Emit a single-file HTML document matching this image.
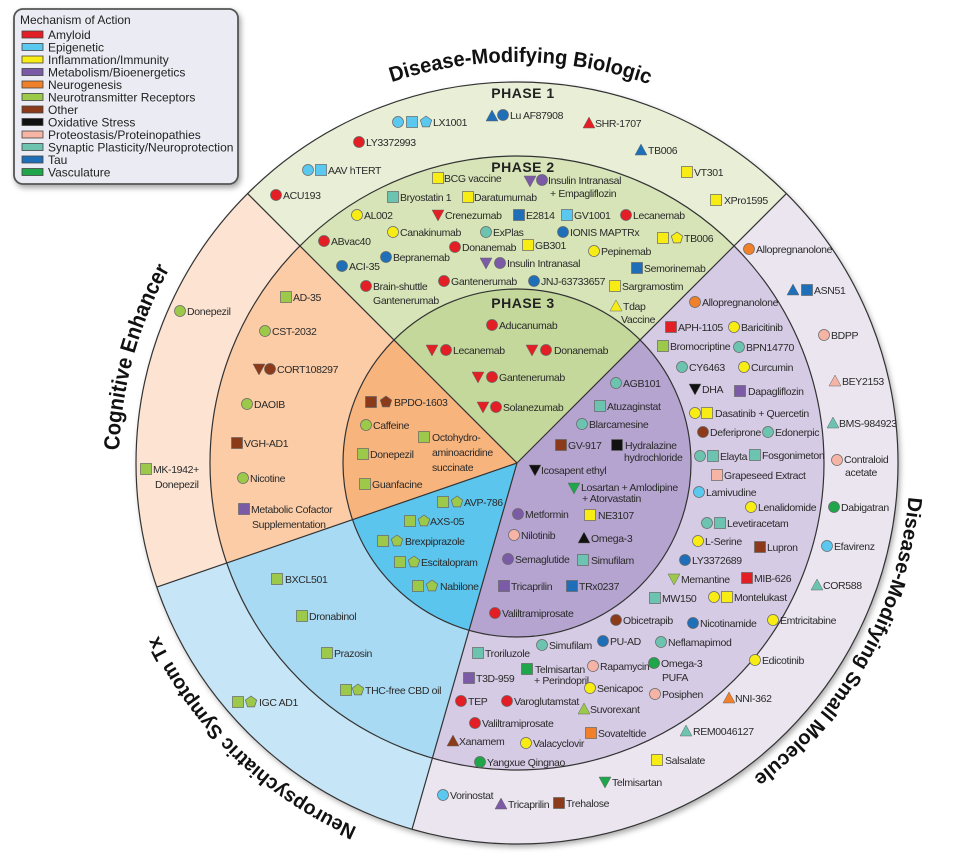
<!DOCTYPE html>
<html><head><meta charset="utf-8">
<style>
html,body{margin:0;padding:0;background:#fff;}
svg{display:block;}
.l{font-family:"Liberation Sans",Arial,sans-serif;font-size:10.5px;fill:#2a2a2a;letter-spacing:-0.35px;}
.ph{font-family:"Liberation Sans",Arial,sans-serif;font-size:14px;font-weight:bold;fill:#222;letter-spacing:0.5px;}
.big{font-family:"Liberation Sans",Arial,sans-serif;font-weight:bold;fill:#111;}
.lg{font-family:"Liberation Sans",Arial,sans-serif;font-size:12px;fill:#222;}
</style></head>
<body>
<svg width="975" height="859" viewBox="0 0 975 859" xmlns="http://www.w3.org/2000/svg">
<defs>
<filter id="sh" x="-10%" y="-10%" width="120%" height="120%"><feDropShadow dx="2" dy="3" stdDeviation="3" flood-color="#000" flood-opacity="0.35"/></filter>
<circle id="c" r="5.5" stroke="#666" stroke-width="0.7"/>
<rect id="s" x="-5.5" y="-5.5" width="11" height="11" stroke="#666" stroke-width="0.7"/>
<polygon id="t" points="0,-6 6,5 -6,5" stroke="#666" stroke-width="0.5"/>
<polygon id="v" points="-6,-5 6,-5 0,6" stroke="#666" stroke-width="0.5"/>
<polygon id="p" points="0,-6 5.7,-1.9 3.5,4.9 -3.5,4.9 -5.7,-1.9" stroke="#666" stroke-width="0.7"/>
<path id="arcB" d="M322.6,112.3 A401,401 0 0 1 717.5,115.7"/>
<path id="arcC" d="M125.1,532.1 A398,398 0 0 1 216.6,201.9"/>
<path id="arcN" d="M414.0,847.4 A398,398 0 0 1 136.4,579.4"/>
<path id="arcS" d="M910,463 A393,393 0 0 1 725.3,796.3"/>
</defs>

<!-- outer disk with shadow -->
<circle cx="517" cy="463" r="381" fill="#fff" filter="url(#sh)"/>

<!-- outer ring sectors (R=381) -->
<path d="M517,463 L247.6,193.6 A381,381 0 0 1 786.4,193.6 Z" fill="#e8efd6"/>
<path d="M517,463 L786.4,193.6 A381,381 0 0 1 412.0,829.3 Z" fill="#ebe5f0"/>
<path d="M517,463 L412.0,829.3 A381,381 0 0 1 156.8,587.1 Z" fill="#c6e5f6"/>
<path d="M517,463 L156.8,587.1 A381,381 0 0 1 247.6,193.6 Z" fill="#fde3d1"/>
<!-- middle (R=307) -->
<path d="M517,463 L299.9,245.9 A307,307 0 0 1 734.1,245.9 Z" fill="#d6e4b8"/>
<path d="M517,463 L734.1,245.9 A307,307 0 0 1 432.4,758.1 Z" fill="#d6cbe4"/>
<path d="M517,463 L432.4,758.1 A307,307 0 0 1 226.7,563.0 Z" fill="#a9daf3"/>
<path d="M517,463 L226.7,563.0 A307,307 0 0 1 299.9,245.9 Z" fill="#fbcca6"/>
<!-- inner (R=174) -->
<path d="M517,463 L394.0,340.0 A174,174 0 0 1 640.0,340.0 Z" fill="#c4d89b"/>
<path d="M517,463 L640.0,340.0 A174,174 0 0 1 469.0,630.3 Z" fill="#b5a4cf"/>
<path d="M517,463 L469.0,630.3 A174,174 0 0 1 352.5,519.7 Z" fill="#5bc5ee"/>
<path d="M517,463 L352.5,519.7 A174,174 0 0 1 394.0,340.0 Z" fill="#f8b47d"/>

<!-- outlines -->
<g fill="none" stroke="#333" stroke-width="1.2">
<circle cx="517" cy="463" r="381"/>
<circle cx="517" cy="463" r="307"/>
<circle cx="517" cy="463" r="174"/>
<line x1="517" y1="463" x2="247.6" y2="193.6"/>
<line x1="517" y1="463" x2="786.4" y2="193.6"/>
<line x1="517" y1="463" x2="412.0" y2="829.3"/>
<line x1="517" y1="463" x2="156.8" y2="587.1"/>
</g>

<!-- curved titles -->
<text class="big" font-size="21"><textPath href="#arcB" startOffset="50%" text-anchor="middle" textLength="262" lengthAdjust="spacingAndGlyphs">Disease-Modifying Biologic</textPath></text>
<text class="big" font-size="22"><textPath href="#arcC" startOffset="50%" text-anchor="middle" textLength="190" lengthAdjust="spacingAndGlyphs">Cognitive Enhancer</textPath></text>
<text class="big" font-size="20"><textPath href="#arcN" startOffset="50%" text-anchor="middle" textLength="282" lengthAdjust="spacingAndGlyphs">Neuropsychiatric Symptom Tx</textPath></text>
<text class="big" font-size="20"><textPath href="#arcS" startOffset="50%" text-anchor="middle" textLength="330" lengthAdjust="spacingAndGlyphs">Disease-Modifying Small Molecule</textPath></text>

<text class="ph" x="523" y="98" text-anchor="middle">PHASE 1</text>
<text class="ph" x="523" y="172" text-anchor="middle">PHASE 2</text>
<text class="ph" x="523" y="308" text-anchor="middle">PHASE 3</text>

<!-- PHASE 1 -->
<use href="#c" x="398" y="122" fill="#5bc8f0"/><use href="#s" x="412" y="122" fill="#5bc8f0"/><use href="#p" x="426" y="122" fill="#5bc8f0"/><text class="l" x="433" y="126">LX1001</text>
<use href="#c" x="359" y="142" fill="#e31e24"/><text class="l" x="366" y="146">LY3372993</text>
<use href="#c" x="308" y="170" fill="#5bc8f0"/><use href="#s" x="321" y="170" fill="#5bc8f0"/><text class="l" x="328" y="174">AAV hTERT</text>
<use href="#c" x="276" y="195" fill="#e31e24"/><text class="l" x="283" y="199">ACU193</text>
<use href="#t" x="492" y="116" fill="#1f6fb8"/><use href="#c" x="503" y="115" fill="#1f6fb8"/><text class="l" x="510" y="119">Lu AF87908</text>
<use href="#t" x="589" y="123" fill="#e31e24"/><text class="l" x="595" y="127">SHR-1707</text>
<use href="#t" x="641" y="150" fill="#1f6fb8"/><text class="l" x="648" y="154">TB006</text>
<use href="#s" x="687" y="172" fill="#f7ec13"/><text class="l" x="694" y="176">VT301</text>
<use href="#s" x="716" y="200" fill="#f7ec13"/><text class="l" x="724" y="204">XPro1595</text>

<!-- PHASE 2 -->
<use href="#s" x="438" y="178" fill="#f7ec13"/><text class="l" x="444" y="182">BCG vaccine</text>
<use href="#s" x="393" y="197" fill="#6cc4b0"/><text class="l" x="400" y="201">Bryostatin 1</text>
<use href="#s" x="468" y="197" fill="#f7ec13"/><text class="l" x="474" y="201">Daratumumab</text>
<use href="#v" x="530" y="181" fill="#7b5aa6"/><use href="#c" x="542" y="180" fill="#7b5aa6"/><text class="l" x="548" y="184">Insulin Intranasal</text><text class="l" x="550" y="197">+ Empagliflozin</text>
<use href="#c" x="357" y="215" fill="#f7ec13"/><text class="l" x="364" y="219">AL002</text>
<use href="#v" x="438" y="215" fill="#e31e24"/><text class="l" x="445" y="219">Crenezumab</text>
<use href="#s" x="519" y="215" fill="#1f6fb8"/><text class="l" x="526" y="219">E2814</text>
<use href="#s" x="567" y="215" fill="#5bc8f0"/><text class="l" x="574" y="219">GV1001</text>
<use href="#c" x="626" y="215" fill="#e31e24"/><text class="l" x="633" y="219">Lecanemab</text>
<use href="#c" x="393" y="232" fill="#f7ec13"/><text class="l" x="400" y="236">Canakinumab</text>
<use href="#c" x="486" y="232" fill="#6cc4b0"/><text class="l" x="493" y="236">ExPlas</text>
<use href="#c" x="563" y="232" fill="#1f6fb8"/><text class="l" x="570" y="236">IONIS MAPTRx</text>
<use href="#s" x="663" y="238" fill="#f7ec13"/><use href="#p" x="677" y="238" fill="#f7ec13"/><text class="l" x="684" y="242">TB006</text>
<use href="#c" x="324" y="241" fill="#e31e24"/><text class="l" x="331" y="245">ABvac40</text>
<use href="#c" x="455" y="247" fill="#e31e24"/><text class="l" x="462" y="251">Donanemab</text>
<use href="#s" x="528" y="245" fill="#f7ec13"/><text class="l" x="535" y="249">GB301</text>
<use href="#c" x="594" y="251" fill="#f7ec13"/><text class="l" x="601" y="255">Pepinemab</text>
<use href="#c" x="386" y="257" fill="#1f6fb8"/><text class="l" x="393" y="261">Bepranemab</text>
<use href="#c" x="342" y="266" fill="#1f6fb8"/><text class="l" x="349" y="270">ACI-35</text>
<use href="#v" x="486" y="263" fill="#7b5aa6"/><use href="#c" x="500" y="263" fill="#7b5aa6"/><text class="l" x="507" y="267">Insulin Intranasal</text>
<use href="#s" x="637" y="268" fill="#1f6fb8"/><text class="l" x="644" y="272">Semorinemab</text>
<use href="#c" x="366" y="286" fill="#e31e24"/><text class="l" x="373" y="290">Brain-shuttle</text><text class="l" x="373" y="304">Gantenerumab</text>
<use href="#c" x="444" y="281" fill="#e31e24"/><text class="l" x="451" y="285">Gantenerumab</text>
<use href="#c" x="534" y="281" fill="#1f6fb8"/><text class="l" x="541" y="285">JNJ-63733657</text>
<use href="#s" x="615" y="286" fill="#f7ec13"/><text class="l" x="622" y="290">Sargramostim</text>
<use href="#t" x="616" y="306" fill="#f7ec13"/><text class="l" x="623" y="310">Tdap</text><text class="l" x="621" y="323">Vaccine</text>

<!-- PHASE 3 green -->
<use href="#c" x="492" y="325" fill="#e31e24"/><text class="l" x="499" y="329">Aducanumab</text>
<use href="#v" x="432" y="350" fill="#e31e24"/><use href="#c" x="446" y="350" fill="#e31e24"/><text class="l" x="453" y="354">Lecanemab</text>
<use href="#v" x="532" y="350" fill="#e31e24"/><use href="#c" x="546" y="350" fill="#e31e24"/><text class="l" x="554" y="354">Donanemab</text>
<use href="#v" x="478" y="377" fill="#e31e24"/><use href="#c" x="492" y="377" fill="#e31e24"/><text class="l" x="499" y="381">Gantenerumab</text>
<use href="#v" x="483" y="407" fill="#e31e24"/><use href="#c" x="496" y="407" fill="#e31e24"/><text class="l" x="503" y="411">Solanezumab</text>

<!-- Orange -->
<use href="#s" x="371" y="402" fill="#8b3a1a"/><use href="#p" x="386" y="402" fill="#8b3a1a"/><text class="l" x="394" y="406">BPDO-1603</text>
<use href="#c" x="366" y="425" fill="#9cc94a"/><text class="l" x="373" y="429">Caffeine</text>
<use href="#s" x="424" y="437" fill="#9cc94a"/><text class="l" x="432" y="441">Octohydro-</text><text class="l" x="432" y="456">aminoacridine</text><text class="l" x="432" y="471">succinate</text>
<use href="#s" x="363" y="454" fill="#9cc94a"/><text class="l" x="370" y="458">Donepezil</text>
<use href="#s" x="365" y="484" fill="#9cc94a"/><text class="l" x="372" y="488">Guanfacine</text>
<use href="#s" x="286" y="297" fill="#9cc94a"/><text class="l" x="293" y="301">AD-35</text>
<use href="#c" x="265" y="331" fill="#9cc94a"/><text class="l" x="272" y="335">CST-2032</text>
<use href="#v" x="259" y="369" fill="#8b3a1a"/><use href="#c" x="270" y="369" fill="#8b3a1a"/><text class="l" x="277" y="373">CORT108297</text>
<use href="#c" x="247" y="404" fill="#9cc94a"/><text class="l" x="254" y="408">DAOIB</text>
<use href="#s" x="237" y="443" fill="#8b3a1a"/><text class="l" x="244" y="447">VGH-AD1</text>
<use href="#c" x="243" y="478" fill="#9cc94a"/><text class="l" x="250" y="482">Nicotine</text>
<use href="#s" x="244" y="509" fill="#7b5aa6"/><text class="l" x="251" y="513">Metabolic Cofactor</text><text class="l" x="252" y="528">Supplementation</text>
<use href="#c" x="180" y="311" fill="#9cc94a"/><text class="l" x="187" y="315">Donepezil</text>
<use href="#s" x="146" y="469" fill="#9cc94a"/><text class="l" x="153" y="473">MK-1942+</text><text class="l" x="155" y="488">Donepezil</text>

<!-- Blue -->
<use href="#s" x="443" y="502" fill="#9cc94a"/><use href="#p" x="457" y="502" fill="#9cc94a"/><text class="l" x="464" y="506">AVP-786</text>
<use href="#s" x="410" y="521" fill="#9cc94a"/><use href="#p" x="424" y="521" fill="#9cc94a"/><text class="l" x="430" y="525">AXS-05</text>
<use href="#s" x="383" y="541" fill="#9cc94a"/><use href="#p" x="397" y="541" fill="#9cc94a"/><text class="l" x="405" y="545">Brexpiprazole</text>
<use href="#s" x="400" y="562" fill="#9cc94a"/><use href="#p" x="414" y="562" fill="#9cc94a"/><text class="l" x="421" y="566">Escitalopram</text>
<use href="#s" x="418" y="586" fill="#9cc94a"/><use href="#p" x="432" y="586" fill="#9cc94a"/><text class="l" x="440" y="590">Nabilone</text>
<use href="#s" x="277" y="579" fill="#9cc94a"/><text class="l" x="285" y="583">BXCL501</text>
<use href="#s" x="302" y="616" fill="#9cc94a"/><text class="l" x="309" y="620">Dronabinol</text>
<use href="#s" x="327" y="653" fill="#9cc94a"/><text class="l" x="334" y="657">Prazosin</text>
<use href="#s" x="346" y="690" fill="#9cc94a"/><use href="#p" x="358" y="690" fill="#9cc94a"/><text class="l" x="365" y="694">THC-free CBD oil</text>
<use href="#s" x="238" y="702" fill="#9cc94a"/><use href="#p" x="251" y="702" fill="#9cc94a"/><text class="l" x="259" y="706">IGC AD1</text>

<!-- Purple inner -->
<use href="#c" x="616" y="383" fill="#6cc4b0"/><text class="l" x="623" y="387">AGB101</text>
<use href="#s" x="600" y="406" fill="#6cc4b0"/><text class="l" x="607" y="410">Atuzaginstat</text>
<use href="#c" x="582" y="424" fill="#6cc4b0"/><text class="l" x="589" y="428">Blarcamesine</text>
<use href="#s" x="561" y="445" fill="#8b3a1a"/><text class="l" x="568" y="449">GV-917</text>
<use href="#s" x="617" y="445" fill="#111"/><text class="l" x="625" y="449">Hydralazine</text><text class="l" x="624" y="461">hydrochloride</text>
<use href="#v" x="535" y="470" fill="#111"/><text class="l" x="541" y="474">Icosapent ethyl</text>
<use href="#v" x="574" y="488" fill="#1fa54a"/><text class="l" x="581" y="491">Losartan + Amlodipine</text><text class="l" x="582" y="502">+ Atorvastatin</text>
<use href="#c" x="518" y="514" fill="#7b5aa6"/><text class="l" x="525" y="518">Metformin</text>
<use href="#s" x="590" y="515" fill="#f7ec13"/><text class="l" x="598" y="519">NE3107</text>
<use href="#c" x="514" y="535" fill="#f6b4a5"/><text class="l" x="521" y="539">Nilotinib</text>
<use href="#t" x="584" y="538" fill="#111"/><text class="l" x="591" y="542">Omega-3</text>
<use href="#c" x="508" y="559" fill="#7b5aa6"/><text class="l" x="515" y="563">Semaglutide</text>
<use href="#s" x="583" y="560" fill="#6cc4b0"/><text class="l" x="591" y="564">Simufilam</text>
<use href="#s" x="504" y="586" fill="#7b5aa6"/><text class="l" x="511" y="590">Tricaprilin</text>
<use href="#s" x="572" y="586" fill="#1f6fb8"/><text class="l" x="579" y="590">TRx0237</text>
<use href="#c" x="495" y="613" fill="#e31e24"/><text class="l" x="502" y="617">Valiltramiprosate</text>

<!-- Purple middle -->
<use href="#c" x="695" y="302" fill="#f0812a"/><text class="l" x="702" y="306">Allopregnanolone</text>
<use href="#s" x="671" y="327" fill="#e31e24"/><text class="l" x="678" y="331">APH-1105</text>
<use href="#c" x="734" y="327" fill="#f7ec13"/><text class="l" x="741" y="331">Baricitinib</text>
<use href="#s" x="663" y="346" fill="#9cc94a"/><text class="l" x="670" y="350">Bromocriptine</text>
<use href="#c" x="739" y="347" fill="#6cc4b0"/><text class="l" x="746" y="351">BPN14770</text>
<use href="#c" x="682" y="367" fill="#6cc4b0"/><text class="l" x="689" y="371">CY6463</text>
<use href="#c" x="744" y="367" fill="#f7ec13"/><text class="l" x="751" y="371">Curcumin</text>
<use href="#v" x="695" y="389" fill="#111"/><text class="l" x="702" y="393">DHA</text>
<use href="#s" x="740" y="391" fill="#7b5aa6"/><text class="l" x="748" y="395">Dapagliflozin</text>
<use href="#c" x="695" y="413" fill="#f7ec13"/><use href="#s" x="707" y="413" fill="#f7ec13"/><text class="l" x="715" y="417">Dasatinib + Quercetin</text>
<use href="#c" x="703" y="432" fill="#8b3a1a"/><text class="l" x="710" y="436">Deferiprone</text>
<use href="#c" x="768" y="432" fill="#6cc4b0"/><text class="l" x="775" y="436">Edonerpic</text>
<use href="#c" x="700" y="456" fill="#6cc4b0"/><use href="#s" x="713" y="456" fill="#6cc4b0"/><text class="l" x="720" y="460">Elayta</text>
<use href="#s" x="755" y="455" fill="#6cc4b0"/><text class="l" x="762" y="459">Fosgonimeton</text>
<use href="#s" x="717" y="475" fill="#f6b4a5"/><text class="l" x="724" y="479">Grapeseed Extract</text>
<use href="#c" x="699" y="492" fill="#5bc8f0"/><text class="l" x="706" y="496">Lamivudine</text>
<use href="#c" x="751" y="507" fill="#f7ec13"/><text class="l" x="758" y="511">Lenalidomide</text>
<use href="#c" x="707" y="523" fill="#6cc4b0"/><use href="#s" x="720" y="523" fill="#6cc4b0"/><text class="l" x="727" y="527">Levetiracetam</text>
<use href="#c" x="698" y="541" fill="#f7ec13"/><text class="l" x="705" y="545">L-Serine</text>
<use href="#s" x="760" y="547" fill="#8b3a1a"/><text class="l" x="767" y="551">Lupron</text>
<use href="#c" x="685" y="560" fill="#1f6fb8"/><text class="l" x="692" y="564">LY3372689</text>
<use href="#v" x="674" y="579" fill="#9cc94a"/><text class="l" x="681" y="583">Memantine</text>
<use href="#s" x="747" y="578" fill="#e31e24"/><text class="l" x="754" y="582">MIB-626</text>
<use href="#s" x="655" y="598" fill="#6cc4b0"/><text class="l" x="662" y="602">MW150</text>
<use href="#c" x="714" y="597" fill="#f7ec13"/><use href="#s" x="727" y="597" fill="#f7ec13"/><text class="l" x="734" y="601">Montelukast</text>
<use href="#c" x="616" y="620" fill="#8b3a1a"/><text class="l" x="623" y="624">Obicetrapib</text>
<use href="#c" x="693" y="623" fill="#1f6fb8"/><text class="l" x="700" y="627">Nicotinamide</text>
<use href="#c" x="542" y="645" fill="#6cc4b0"/><text class="l" x="549" y="649">Simufilam</text>
<use href="#c" x="603" y="641" fill="#1f6fb8"/><text class="l" x="610" y="645">PU-AD</text>
<use href="#c" x="661" y="642" fill="#6cc4b0"/><text class="l" x="668" y="646">Neflamapimod</text>
<use href="#s" x="478" y="653" fill="#6cc4b0"/><text class="l" x="485" y="657">Troriluzole</text>
<use href="#s" x="469" y="678" fill="#7b5aa6"/><text class="l" x="476" y="682">T3D-959</text>
<use href="#s" x="527" y="669" fill="#1fa54a"/><text class="l" x="535" y="673">Telmisartan</text><text class="l" x="534" y="684">+ Perindopril</text>
<use href="#c" x="593" y="666" fill="#f6b4a5"/><text class="l" x="600" y="670">Rapamycin</text>
<use href="#c" x="654" y="663" fill="#1fa54a"/><text class="l" x="661" y="667">Omega-3</text><text class="l" x="662" y="681">PUFA</text>
<use href="#c" x="461" y="701" fill="#e31e24"/><text class="l" x="468" y="705">TEP</text>
<use href="#c" x="507" y="701" fill="#e31e24"/><text class="l" x="514" y="705">Varoglutamstat</text>
<use href="#c" x="590" y="688" fill="#f7ec13"/><text class="l" x="597" y="692">Senicapoc</text>
<use href="#c" x="655" y="694" fill="#f6b4a5"/><text class="l" x="662" y="698">Posiphen</text>
<use href="#t" x="584" y="709" fill="#9cc94a"/><text class="l" x="590" y="713">Suvorexant</text>
<use href="#c" x="475" y="723" fill="#e31e24"/><text class="l" x="482" y="727">Valiltramiprosate</text>
<use href="#s" x="591" y="733" fill="#f0812a"/><text class="l" x="598" y="737">Sovateltide</text>
<use href="#t" x="453" y="741" fill="#8b3a1a"/><text class="l" x="459" y="745">Xanamem</text>
<use href="#c" x="526" y="743" fill="#f7ec13"/><text class="l" x="533" y="747">Valacyclovir</text>
<use href="#c" x="480" y="762" fill="#1fa54a"/><text class="l" x="487" y="766">Yangxue Qingnao</text>

<!-- Purple outer -->
<use href="#c" x="749" y="249" fill="#f0812a"/><text class="l" x="756" y="253">Allopregnanolone</text>
<use href="#t" x="793" y="290" fill="#1f6fb8"/><use href="#s" x="807" y="290" fill="#1f6fb8"/><text class="l" x="814" y="294">ASN51</text>
<use href="#c" x="824" y="335" fill="#f6b4a5"/><text class="l" x="831" y="339">BDPP</text>
<use href="#t" x="835" y="381" fill="#f6b4a5"/><text class="l" x="842" y="385">BEY2153</text>
<use href="#t" x="833" y="423" fill="#6cc4b0"/><text class="l" x="839" y="427">BMS-984923</text>
<use href="#c" x="837" y="460" fill="#f6b4a5"/><text class="l" x="844" y="463">Contraloid</text><text class="l" x="845" y="476">acetate</text>
<use href="#c" x="834" y="507" fill="#1fa54a"/><text class="l" x="841" y="511">Dabigatran</text>
<use href="#c" x="827" y="546" fill="#5bc8f0"/><text class="l" x="834" y="550">Efavirenz</text>
<use href="#t" x="817" y="585" fill="#6cc4b0"/><text class="l" x="823" y="589">COR588</text>
<use href="#c" x="773" y="620" fill="#f7ec13"/><text class="l" x="780" y="624">Emtricitabine</text>
<use href="#c" x="755" y="660" fill="#f7ec13"/><text class="l" x="762" y="664">Edicotinib</text>
<use href="#t" x="729" y="698" fill="#f0812a"/><text class="l" x="735" y="702">NNI-362</text>
<use href="#t" x="686" y="731" fill="#6cc4b0"/><text class="l" x="693" y="735">REM0046127</text>
<use href="#s" x="657" y="760" fill="#f7ec13"/><text class="l" x="665" y="764">Salsalate</text>
<use href="#v" x="605" y="782" fill="#1fa54a"/><text class="l" x="612" y="786">Telmisartan</text>
<use href="#c" x="443" y="795" fill="#5bc8f0"/><text class="l" x="450" y="799">Vorinostat</text>
<use href="#t" x="501" y="804" fill="#7b5aa6"/><text class="l" x="508" y="808">Tricaprilin</text>
<use href="#s" x="559" y="803" fill="#8b3a1a"/><text class="l" x="566" y="807">Trehalose</text>

<!-- Legend -->
<rect x="14" y="9" width="224" height="175" rx="9" fill="#ebebf3" stroke="#555" stroke-width="1.8" filter="url(#sh)"/>
<text class="lg" x="20" y="24" font-size="13.5">Mechanism of Action</text>
<g stroke="#444" stroke-width="0.8">
<rect x="22" y="31" width="21" height="7" fill="#e31e24"/>
<rect x="22" y="43.5" width="21" height="7" fill="#5bc8f0"/>
<rect x="22" y="56" width="21" height="7" fill="#f7ec13"/>
<rect x="22" y="68.5" width="21" height="7" fill="#7b5aa6"/>
<rect x="22" y="81" width="21" height="7" fill="#f0812a"/>
<rect x="22" y="93.5" width="21" height="7" fill="#9cc94a"/>
<rect x="22" y="106" width="21" height="7" fill="#8b3a1a"/>
<rect x="22" y="118.5" width="21" height="7" fill="#111"/>
<rect x="22" y="131" width="21" height="7" fill="#f6b4a5"/>
<rect x="22" y="143.5" width="21" height="7" fill="#6cc4b0"/>
<rect x="22" y="156" width="21" height="7" fill="#1f6fb8"/>
<rect x="22" y="168.5" width="21" height="7" fill="#1fa54a"/>
</g>
<g class="lg">
<text class="lg" x="48" y="39">Amyloid</text>
<text class="lg" x="48" y="51.5">Epigenetic</text>
<text class="lg" x="48" y="64">Inflammation/Immunity</text>
<text class="lg" x="48" y="76.5">Metabolism/Bioenergetics</text>
<text class="lg" x="48" y="89">Neurogenesis</text>
<text class="lg" x="48" y="101.5">Neurotransmitter Receptors</text>
<text class="lg" x="48" y="114">Other</text>
<text class="lg" x="48" y="126.5">Oxidative Stress</text>
<text class="lg" x="48" y="139">Proteostasis/Proteinopathies</text>
<text class="lg" x="48" y="151.5">Synaptic Plasticity/Neuroprotection</text>
<text class="lg" x="48" y="164">Tau</text>
<text class="lg" x="48" y="176.5">Vasculature</text>
</g>
</svg>
</body></html>
